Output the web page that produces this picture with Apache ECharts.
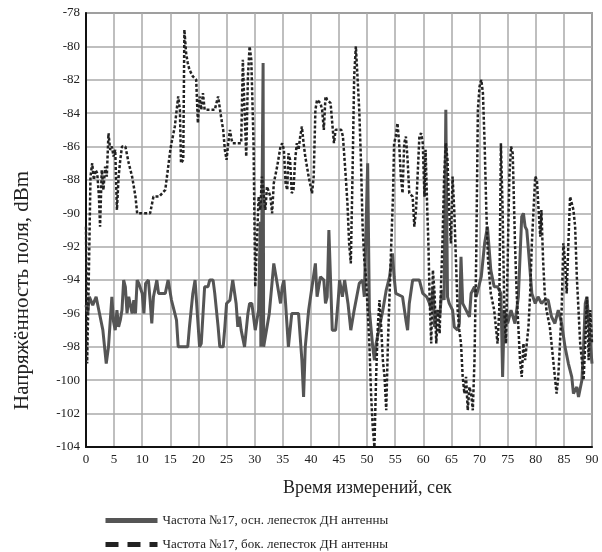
<!DOCTYPE html>
<html>
<head>
<meta charset="utf-8">
<script src="https://cdn.jsdelivr.net/npm/echarts@6/dist/echarts.min.js"></script>
<style>
html,body{margin:0;padding:0;background:#fff;}
#chart{width:602px;height:552px;}
</style>
</head>
<body>
<div id="chart"></div>
<script>
var xTicks = [0,5,10,15,20,25,30,35,40,45,50,55,60,65,70,75,80,85,90];
var yTicks = [-104,-102,-100,-98,-96,-94,-92,-90,-88,-86,-84,-82,-80,-78];
var seriesNames = ['Частота №17, осн. лепесток ДН антенны', 'Частота №17, бок. лепесток ДН антенны'];
var xAxisTitle = 'Время измерений, сек';
var yAxisTitle = 'Напряжённость поля, dBm';

var mainTimes = [0.0,0.3,0.6,1.2,1.8,2.4,3.0,3.6,4.0,4.6,4.9,5.2,5.5,5.8,6.1,6.4,6.7,7.0,7.3,7.6,8.2,8.5,8.8,9.1,9.4,10.0,10.3,10.6,11.1,11.4,11.7,12.0,12.6,12.9,13.5,14.1,14.6,15.2,15.8,16.1,16.4,16.7,18.1,18.4,19.0,19.4,19.8,20.2,20.5,21.1,21.7,22.0,22.6,22.9,23.5,23.8,24.4,24.7,25.0,25.6,26.1,26.7,27.0,27.3,27.6,28.2,28.8,29.1,29.5,30.1,30.7,31.0,31.1,31.5,31.6,31.9,32.6,33.4,33.9,34.6,34.9,35.2,35.5,36.0,36.6,37.8,38.4,38.7,39.0,39.6,40.2,40.8,41.1,41.7,42.3,42.6,42.9,43.2,43.5,43.8,44.4,44.9,45.1,45.6,46.0,46.6,47.1,47.7,48.6,49.2,49.5,49.8,50.1,50.4,51.0,51.3,51.6,52.2,52.8,53.4,54.0,54.5,54.8,55.1,56.3,56.9,57.2,57.5,58.1,59.3,59.9,60.6,61.1,61.4,61.7,62.0,62.3,62.9,63.2,63.4,63.7,64.0,64.3,64.6,65.2,65.5,66.1,66.4,66.7,67.0,67.6,68.2,68.5,69.1,69.4,70.3,70.9,71.4,72.0,72.6,73.2,73.8,74.1,74.4,75.0,75.6,76.3,76.9,77.5,77.8,78.1,78.4,78.7,79.3,79.9,80.4,81.0,81.6,82.2,82.8,83.4,84.0,84.6,85.2,85.8,86.4,86.7,87.3,87.6,88.2,88.5,88.8,89.1,89.7,90.0];
var mainValues = [-95.5,-96,-95,-95.5,-95,-96,-97,-99,-98,-95,-96.5,-97,-95.8,-96.8,-96.4,-95.8,-94,-94.4,-96,-95,-96,-95.2,-96,-94,-94.2,-94.8,-96,-94.2,-94,-95.2,-96.6,-95,-94,-94.8,-94.8,-94.8,-94,-95.2,-96,-96.4,-98,-98,-98,-96.8,-94.8,-94,-96,-98,-97.8,-94.4,-94.4,-94,-94,-94.8,-96.8,-98,-98,-96.8,-95.4,-95.2,-94,-95.4,-96.8,-96.2,-97,-98,-96,-95.4,-95.4,-97,-95.8,-90.5,-98,-81,-98,-98,-96,-93,-94,-95.4,-94.4,-94,-95.4,-98,-96,-96,-98.8,-101,-98,-95.8,-94.4,-93,-95,-93.8,-94,-95.4,-95,-91,-94,-97,-97,-95,-94,-95,-94,-95.4,-97,-95.8,-94.2,-94,-95,-95,-87,-95.8,-98,-98.8,-97.8,-96.8,-95.8,-94.6,-93.8,-92.4,-93.8,-94.8,-95,-96.4,-97,-95.4,-94,-94,-94.8,-95,-95.4,-95.8,-94.4,-96.8,-95.8,-96.2,-95,-94.6,-95.2,-83.8,-95,-95.4,-95.8,-96.8,-97,-96.6,-92.6,-95.4,-95.8,-96.2,-94.8,-94.4,-95,-93.8,-91.8,-90.8,-93.4,-94.4,-94.4,-94.8,-99.8,-95.8,-96.6,-95.8,-96.6,-95,-90.2,-90,-90.8,-91,-92.2,-94.8,-95.4,-95,-95.4,-95.2,-95.2,-96.2,-96.6,-95.8,-96.6,-98,-99,-99.8,-100.8,-100.4,-101,-100,-98,-95.4,-95,-97.8,-99];

var sideTimes = [0.0,0.1,0.2,0.5,0.8,1.1,1.4,1.7,2.0,2.3,2.5,2.8,3.1,3.4,3.7,4.0,4.3,4.6,4.9,5.2,5.5,5.8,6.1,6.4,7.0,7.6,8.2,8.8,9.1,10.0,11.4,12.0,13.0,14.1,15.0,15.2,15.8,16.4,16.7,16.9,17.3,17.5,17.8,18.1,18.4,19.0,19.6,19.9,20.2,20.5,20.8,21.1,21.7,22.9,23.5,23.8,24.1,24.4,24.7,25.0,25.3,25.6,25.9,26.1,27.0,27.6,27.9,28.2,28.5,28.8,29.1,29.4,29.8,30.1,30.4,30.7,31.0,31.3,31.9,32.2,32.8,33.1,33.4,34.0,34.6,34.9,35.2,35.5,35.8,36.0,36.3,36.6,36.9,37.2,37.5,37.8,38.1,38.4,38.7,39.0,39.6,40.2,40.5,40.8,41.1,41.7,42.0,42.3,42.6,42.9,43.5,44.1,44.4,44.9,45.4,45.7,46.2,46.5,46.8,47.1,47.4,47.7,48.0,48.3,48.6,48.9,49.2,49.5,49.8,50.1,50.4,50.7,51.0,51.3,51.6,51.9,52.2,52.5,52.8,53.1,53.4,53.7,54.0,54.3,54.6,54.8,55.1,55.4,55.7,56.0,56.3,56.6,56.9,57.2,57.5,58.1,58.4,58.7,59.3,59.6,59.9,60.2,60.4,60.7,60.9,61.1,61.4,61.7,62.0,62.3,62.6,62.9,63.1,63.4,63.7,64.0,64.3,64.6,64.9,65.2,65.5,65.8,66.1,66.4,66.7,67.0,67.3,67.6,67.9,68.2,68.5,68.8,69.1,69.4,69.7,70.0,70.3,70.6,70.9,71.2,71.5,72.0,72.6,72.9,73.2,73.5,73.8,74.1,74.4,74.7,75.0,75.3,75.6,75.9,76.3,76.6,76.9,77.2,77.5,77.8,78.1,78.4,78.7,79.0,79.3,79.6,79.9,80.2,80.5,80.8,81.0,81.3,81.6,81.9,82.5,83.1,83.7,84.0,84.3,84.6,84.9,85.2,85.5,85.8,86.1,86.4,86.7,87.0,87.3,87.6,87.9,88.2,88.5,88.8,89.1,89.4,89.7,90.0];
var sideValues = [-90.8,-95,-99,-93.8,-87.8,-87,-88,-87.4,-87.6,-89,-90.8,-87.4,-88.6,-87.2,-87.8,-85.2,-86.2,-86,-86.6,-86.2,-89.8,-87.8,-86.8,-86,-86,-87,-87.8,-89,-90,-90,-90,-89,-89,-88.6,-86.2,-85.8,-84.8,-83,-83.8,-87,-86.8,-79,-80.4,-81,-81.4,-81.8,-82,-84.6,-83,-83.8,-82.8,-83.8,-83.8,-83.8,-83,-83,-84.4,-85,-86.2,-86.8,-85.8,-85,-85.6,-85.8,-85.8,-85.8,-80.8,-83.8,-86.6,-81.8,-80,-80.8,-85.8,-94.4,-91.8,-89,-89.8,-87.8,-89.8,-88.4,-89,-90,-88.2,-87.2,-86,-85.8,-86.2,-88.2,-88.6,-86.4,-86.8,-88.8,-88.6,-86.8,-85.8,-86.2,-85.4,-84.8,-85.8,-86.6,-87.8,-88.8,-87.8,-83.8,-83.2,-83.4,-83.8,-85,-83,-83.2,-83.4,-85.8,-85,-85,-85,-85.4,-87.8,-89.4,-91.8,-93,-87.8,-81.8,-80,-80,-83.8,-86.8,-90.8,-92.8,-93.8,-95.8,-97.8,-100.8,-102.8,-104,-99.8,-96.8,-95.2,-96.8,-98.8,-99.8,-101.8,-97.8,-94.8,-91.8,-89,-85.8,-85.4,-84.6,-85.8,-87.8,-88.8,-85.8,-85.4,-86.8,-88.8,-89,-90.8,-89.8,-85.4,-85.2,-85.8,-89,-86.2,-89.8,-91.8,-94.8,-97.8,-93.4,-94.8,-97.8,-95.8,-97.2,-94.8,-91.8,-87.8,-85.8,-86.8,-89.8,-91.8,-87.8,-89.8,-92.8,-95.8,-97,-97.8,-99.8,-100.8,-99.8,-101.8,-100.4,-100.8,-101.8,-98.8,-92.8,-83.8,-82.4,-82,-82.8,-85.8,-89.8,-92.8,-94.8,-95.8,-96.8,-97.8,-95.8,-85.8,-89.8,-95.8,-97.8,-92.8,-87.8,-86,-86.4,-91.8,-94.8,-96.8,-98.8,-99.8,-97.8,-98.8,-97.8,-96.8,-94.8,-91.8,-89.8,-87.8,-88,-89.8,-91.4,-89.8,-92.8,-94.8,-95.8,-96.8,-98.8,-100.8,-99.8,-97.8,-95.8,-91.8,-92.8,-94.8,-91.8,-89,-89,-89.8,-90.8,-93.8,-95.8,-97.8,-98.8,-100,-97.8,-95,-98.8,-95.8,-97.8];

function zip(ts, vs) {
  var out = [];
  for (var i = 0; i < ts.length; i++) out.push([ts[i], vs[i]]);
  return out;
}

var serif = '"Liberation Serif", "DejaVu Serif", serif';
var legendText = {fontFamily: serif, fontSize: 13, color: '#222'};
var chart = echarts.init(document.getElementById('chart'), null, {renderer: 'canvas'});
chart.setOption({
  animation: false,
  backgroundColor: '#ffffff',
  grid: {left: 86, right: 10, top: 13, bottom: 105, show: true, borderColor: '#555', borderWidth: 1.5, backgroundColor: 'transparent'},
  xAxis: {
    type: 'value', min: 0, max: 90, interval: 5,
    axisLine: {show: true, onZero: false, lineStyle: {color: '#111', width: 2}},
    axisTick: {show: false},
    axisLabel: {color: '#222', fontFamily: serif, fontSize: 13, margin: 6},
    splitLine: {show: true, lineStyle: {color: '#aaa', width: 1.5}}
  },
  yAxis: {
    type: 'value', min: -104, max: -78, interval: 2,
    axisLine: {show: true, onZero: false, lineStyle: {color: '#111', width: 2}},
    axisTick: {show: false},
    axisLabel: {color: '#222', fontFamily: serif, fontSize: 13, margin: 6},
    splitLine: {show: true, lineStyle: {color: '#aaa', width: 1.5}}
  },
  legend: [
    {left: 98, top: 509, itemWidth: 52, itemHeight: 14, itemGap: 0, textStyle: legendText,
     data: [{name: seriesNames[0], itemStyle: {opacity: 0}, lineStyle: {width: 5, color: '#555'}}]},
    {left: 98, top: 533, itemWidth: 52, itemHeight: 14, itemGap: 0, textStyle: legendText,
     data: [{name: seriesNames[1], itemStyle: {opacity: 0}, lineStyle: {type: [13, 9], width: 5, color: '#222'}}]}
  ],
  graphic: [
    {type: 'text', left: 283, top: 479, style: {text: xAxisTitle, font: '18px ' + serif, fill: '#222'}},
    {type: 'text', x: 12, y: 410, rotation: Math.PI / 2, style: {text: yAxisTitle, font: '21px ' + serif, fill: '#222', textAlign: 'left', textVerticalAlign: 'top'}}
  ],
  series: [
    {name: seriesNames[0], type: 'line', data: zip(mainTimes, mainValues), showSymbol: false, symbol: 'none',
     lineStyle: {color: '#555', width: 3}, itemStyle: {color: '#555'}, z: 3},
    {name: seriesNames[1], type: 'line', data: zip(sideTimes, sideValues), showSymbol: false, symbol: 'none',
     lineStyle: {color: '#222', width: 2.5, type: [3, 2]}, itemStyle: {color: '#222'}, z: 4}
  ]
});
</script>
</body>
</html>
